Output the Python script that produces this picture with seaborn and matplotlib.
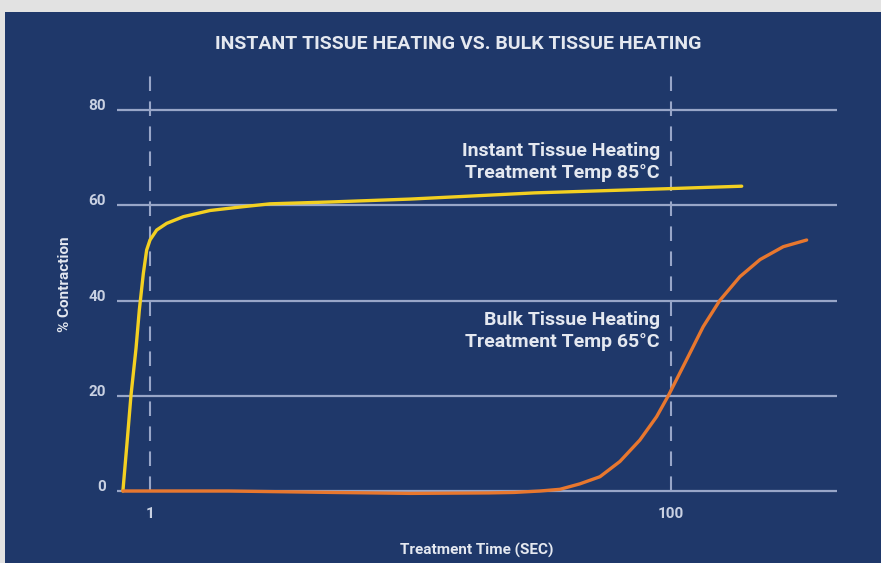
import matplotlib
matplotlib.use("Agg")
import matplotlib.pyplot as plt
import matplotlib.patches as mpatches
import pandas as pd
import seaborn as sns

# ── Data ─────────────────────────────────────────────────────────────────────
instant_time = [0.787, 0.816, 0.845, 0.884, 0.91, 0.943, 0.971, 1.0, 1.061, 1.159,
                1.343, 1.70, 2.28, 2.89, 5.0, 10, 30, 100, 187]
instant_pct  = [0, 10, 20, 30, 38, 45.7, 50.6, 52.7, 54.8, 56.2,
                57.6, 58.9, 59.7, 60.3, 60.7, 61.3, 62.6, 63.5, 64]

bulk_time = [0.787, 2, 5, 10, 20, 25, 31.4, 37.5, 44.7, 53.4, 63.7, 76, 88.1,
             97.7, 114.7, 133, 154, 184, 220, 270, 332]
bulk_pct  = [0, 0, -0.3, -0.5, -0.4, -0.3, 0, 0.36, 1.5, 3, 6.2, 10.7, 15.6,
             20, 27.5, 34.5, 40, 45, 48.6, 51.3, 52.7]

y_ticks = [0, 20, 40, 60, 80]
x_ticks = [1, 100]
x_tick_labels = ["1", "100"]

BG      = "#1f386a"
FRAME   = "#e2e2e2"
GRID    = "#98a6c8"
TXT     = "#e4e8f0"
YELLOW  = "#f3d021"
ORANGE  = "#e8772e"

sns.set_style("white")
plt.rcParams["font.family"] = ["Roboto", "DejaVu Sans"]

df = pd.concat([
    pd.DataFrame({"time": instant_time, "pct": instant_pct, "series": "instant"}),
    pd.DataFrame({"time": bulk_time, "pct": bulk_pct, "series": "bulk"}),
])

fig = plt.figure(figsize=(8.81, 5.63), dpi=100, facecolor=BG)
# light grey frame along the top and left edges of the panel
fig.patches.append(mpatches.Rectangle((0, 1 - 12 / 563), 1, 12 / 563,
                                      transform=fig.transFigure, facecolor=FRAME,
                                      edgecolor="none", zorder=-5))
fig.patches.append(mpatches.Rectangle((0, 0), 5 / 881, 1,
                                      transform=fig.transFigure, facecolor=FRAME,
                                      edgecolor="none", zorder=-5))
ax = fig.add_axes([0.1328, 0.1194, 0.8172, 0.7529])
ax.set_facecolor("none")

ax.set_xscale("log")
ax.set_xlim(0.747, 434)
ax.set_ylim(-1, 88)

ax.set_yticks(y_ticks)
ax.yaxis.grid(True, color=GRID, linewidth=1.6)
ax.xaxis.grid(False)
ax.set_axisbelow(True)
for s in ax.spines.values():
    s.set_visible(False)

ax.vlines(x_ticks, 0, 87.5, colors=GRID, linewidth=1.5,
          linestyles=(0, (7, 5)), zorder=1)

sns.lineplot(data=df, x="time", y="pct", hue="series", sort=False,
             palette={"instant": YELLOW, "bulk": ORANGE},
             linewidth=2.4, legend=False, ax=ax, zorder=3)

ax.set_xticks(x_ticks)
ax.set_xticklabels(x_tick_labels)
ax.xaxis.set_minor_locator(matplotlib.ticker.NullLocator())
ax.tick_params(axis="both", length=0, colors="#c9d1e2", labelsize=11)
ax.tick_params(axis="y", pad=8)
ax.tick_params(axis="x", pad=8)
for lbl in ax.get_yticklabels():
    lbl.set_verticalalignment("baseline")
for lbl in ax.get_xticklabels() + ax.get_yticklabels():
    lbl.set_fontweight("bold")

ax.set_xlabel("Treatment Time (SEC)", color=TXT, fontsize=11,
              fontweight="bold", labelpad=16)
ax.set_ylabel("% Contraction", color=TXT, fontsize=11,
              fontweight="bold", labelpad=12)

fig.text(0.52, 0.922, "INSTANT TISSUE HEATING VS. BULK TISSUE HEATING",
         ha="center", va="center", color=TXT, fontsize=14, fontweight="bold")

ax.text(90.7, 65.7, "Instant Tissue Heating\nTreatment Temp 85°C", ha="right",
        va="baseline", color=TXT, fontsize=14, fontweight="bold", linespacing=1.3)
ax.text(90.7, 30.2, "Bulk Tissue Heating\nTreatment Temp 65°C", ha="right",
        va="baseline", color=TXT, fontsize=14, fontweight="bold", linespacing=1.3)

plt.savefig("out.png", dpi=100, facecolor=fig.get_facecolor())
plt.close()
